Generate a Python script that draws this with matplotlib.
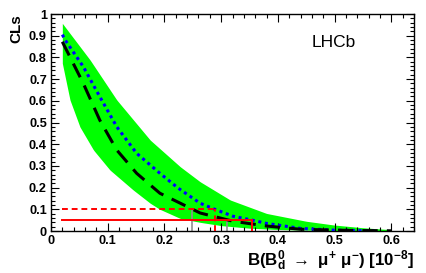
import numpy as np
import matplotlib.pyplot as plt
from matplotlib.ticker import MultipleLocator

plt.rcParams['font.family'] = ['Liberation Sans', 'DejaVu Sans']
plt.rcParams['mathtext.fontset'] = 'custom'
plt.rcParams['mathtext.rm'] = 'Liberation Sans:bold'
plt.rcParams['mathtext.it'] = 'Liberation Sans:bold'
plt.rcParams['mathtext.bf'] = 'Liberation Sans:bold'

# branching fraction scan points [10^-8]
band_lo_x = [0.02, 0.0335, 0.051, 0.075, 0.104, 0.145, 0.175, 0.192, 0.228, 0.263, 0.3, 0.35, 0.4, 0.45, 0.5, 0.55, 0.6]
band_lo = [0.773, 0.604, 0.48, 0.373, 0.281, 0.189, 0.128, 0.10, 0.058, 0.04, 0.025, 0.013, 0.007, 0.004, 0.002, 0.001, 0.0]
band_hi_x = [0.02, 0.069, 0.116, 0.175, 0.228, 0.263, 0.316, 0.38, 0.45, 0.498, 0.55, 0.6]
band_hi = [0.957, 0.788, 0.604, 0.419, 0.296, 0.227, 0.143, 0.081, 0.045, 0.028, 0.015, 0.006]

exp_x = [0.02, 0.057, 0.086, 0.116, 0.151, 0.192, 0.228, 0.263, 0.321, 0.38, 0.44, 0.5, 0.55, 0.6]
exp_cls = [0.872, 0.68, 0.511, 0.373, 0.266, 0.174, 0.128, 0.083, 0.045, 0.023, 0.008, 0.004, 0.002, 0.001]

obs_x = [0.02, 0.025, 0.057, 0.086, 0.116, 0.151, 0.192, 0.224, 0.263, 0.289, 0.321, 0.355, 0.38, 0.44, 0.5, 0.57]
obs_cls = [0.905, 0.88, 0.757, 0.619, 0.48, 0.358, 0.266, 0.198, 0.128, 0.10, 0.068, 0.05, 0.035, 0.012, 0.004, 0.001]

# limits at 90% and 95% CL
lim90_obs, lim95_obs = 0.289, 0.355
lim90_exp, lim95_exp = 0.248, 0.31

fig = plt.figure(figsize=(4.27, 2.73), dpi=100)
ax = fig.add_axes([0.1194, 0.1538, 0.8502, 0.7949])

# band on a common grid
grid = np.linspace(0.02, 0.6, 300)
ax.fill_between(grid, np.interp(grid, band_lo_x, band_lo), np.interp(grid, band_hi_x, band_hi),
                color='#00ff00', lw=0, zorder=1)
ax.plot(obs_x, obs_cls, color='#0000ff', ls=(0, (1, 1.2)), lw=2.2, zorder=3)
ax.plot(exp_x, exp_cls, color='black', ls=(0, (5, 3)), lw=2.2, zorder=4)

ax.plot([0.02, lim90_obs], [0.1, 0.1], color='#ff0000', ls=(0, (3, 2)), lw=1.4, zorder=5)
ax.plot([lim90_obs, lim90_obs], [0, 0.1], color='#ff0000', ls=(0, (3, 2)), lw=1.4, zorder=5)
ax.plot([0.02, lim95_obs], [0.05, 0.05], color='#ff0000', lw=1.4, zorder=5)
ax.plot([lim95_obs, lim95_obs], [0, 0.05], color='#ff0000', lw=1.4, zorder=5)
ax.plot([lim90_exp, lim90_exp], [0, 0.09], color='#909090', lw=1.2, zorder=2)
ax.plot([lim95_exp, lim95_exp], [0, 0.045], color='#909090', lw=1.2, zorder=2)

ax.set_xlim(0, 0.64)
ax.set_ylim(0, 1)
ax.xaxis.set_major_locator(MultipleLocator(0.1))
ax.xaxis.set_minor_locator(MultipleLocator(0.02))
ax.yaxis.set_major_locator(MultipleLocator(0.1))
ax.yaxis.set_minor_locator(MultipleLocator(0.02))
ax.xaxis.set_major_formatter(plt.FuncFormatter(lambda v, p: '0' if abs(v) < 1e-9 else f'{v:.1f}'))
ax.yaxis.set_major_formatter(plt.FuncFormatter(lambda v, p: '0' if abs(v) < 1e-9 else ('1' if abs(v - 1) < 1e-9 else f'{v:.1f}')))
ax.tick_params(which='both', direction='in', top=True, right=True, width=0.8)
ax.tick_params(which='major', length=6, labelsize=9.2, pad=3)
ax.tick_params(which='minor', length=3)
for lab in ax.get_xticklabels() + ax.get_yticklabels():
    lab.set_fontweight('bold')
for s in ax.spines.values():
    s.set_linewidth(1.0)

ax.set_ylabel('CLs', fontsize=11, fontweight='bold', loc='top', labelpad=4)
ax.set_xlabel(r'B(B$_{d}^{0}$ $\rightarrow$ $\mu^{+}$ $\mu^{-}$) [10$^{-8}$]',
              fontsize=12.2, fontweight='bold', loc='right', labelpad=1)
ax.text(0.78, 0.87, 'LHCb', transform=ax.transAxes, fontsize=12.5, ha='center', va='center')

fig.savefig('out.png', dpi=100)
